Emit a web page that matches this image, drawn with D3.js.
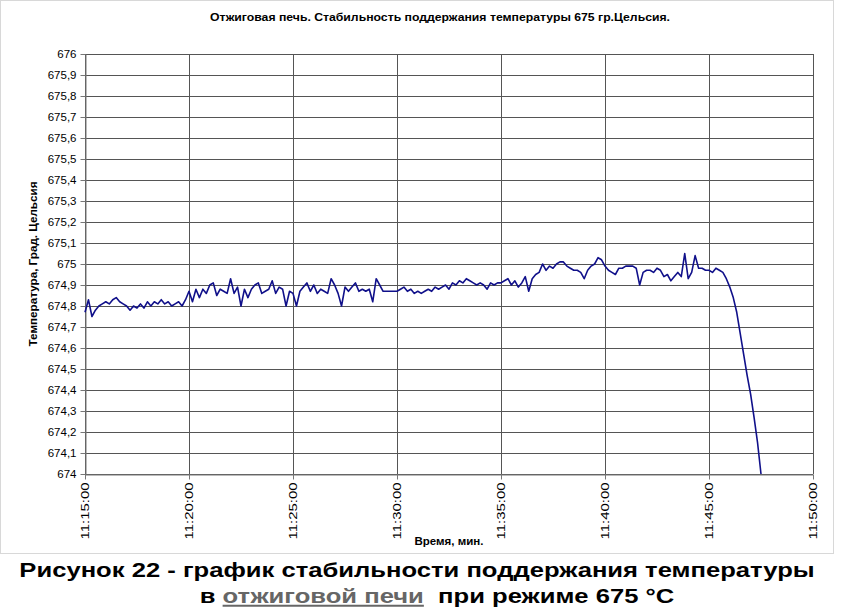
<!DOCTYPE html>
<html>
<head>
<meta charset="utf-8">
<script src="https://cdn.jsdelivr.net/npm/d3@7"></script>
<style>
  body { margin: 0; background: #fff; }
  text { font-family: "Liberation Sans", Arial, sans-serif; }
</style>
</head>
<body>
<script>
const width = 850;
const height = 614;

// readings every 10 s starting at 11:15:00
const startTime = new Date(2000, 0, 1, 11, 15, 0);
const stepSeconds = 10;

const temps1115 = [674.77, 674.83, 674.75, 674.78, 674.80, 674.81,
                   674.82, 674.81, 674.83, 674.84, 674.82, 674.81,
                   674.80, 674.78, 674.80, 674.79, 674.81, 674.79,
                   674.82, 674.80, 674.82, 674.81, 674.83, 674.81,
                   674.82, 674.80, 674.81, 674.82, 674.80, 674.83];
const temps1120 = [674.87, 674.82, 674.88, 674.84, 674.88, 674.86,
                   674.90, 674.91, 674.85, 674.88, 674.87, 674.86,
                   674.93, 674.86, 674.89, 674.80, 674.88, 674.84,
                   674.88, 674.90, 674.91, 674.86, 674.87, 674.88,
                   674.92, 674.86, 674.89, 674.88, 674.80, 674.87];
const temps1125 = [674.86, 674.80, 674.87, 674.89, 674.91, 674.87,
                   674.90, 674.86, 674.88, 674.87, 674.86, 674.93,
                   674.90, 674.86, 674.80, 674.89, 674.87, 674.89,
                   674.91, 674.87, 674.88, 674.87, 674.88, 674.82,
                   674.93, 674.90, 674.87, 674.87, 674.87, 674.87];
const temps1130 = [674.87, 674.88, 674.89, 674.87, 674.88, 674.86,
                   674.87, 674.86, 674.87, 674.88, 674.87, 674.89,
                   674.88, 674.89, 674.90, 674.88, 674.91, 674.90,
                   674.92, 674.91, 674.93, 674.92, 674.91, 674.90,
                   674.91, 674.90, 674.88, 674.91, 674.90, 674.91];
const temps1135 = [674.91, 674.92, 674.93, 674.90, 674.92, 674.89,
                   674.91, 674.94, 674.87, 674.93, 674.95, 674.96,
                   675.00, 674.97, 674.99, 674.98, 675.00, 675.01,
                   675.01, 674.99, 674.98, 674.97, 674.97, 674.96,
                   674.93, 674.97, 674.99, 675.00, 675.03, 675.02];
const temps1140 = [674.99, 674.97, 674.96, 674.95, 674.98, 674.98,
                   674.99, 674.99, 674.99, 674.98, 674.90, 674.96,
                   674.97, 674.97, 674.96, 674.98, 674.97, 674.94,
                   674.95, 674.92, 674.94, 674.96, 674.94, 675.05,
                   674.93, 674.96, 675.04, 674.98, 674.98, 674.97];
const temps1145 = [674.97, 674.96, 674.98, 674.97, 674.96, 674.93,
                   674.89, 674.84, 674.77, 674.67, 674.57, 674.47,
                   674.38, 674.27, 674.15, 674.00];

const yTicks = [674, 674.1, 674.2, 674.3, 674.4, 674.5, 674.6, 674.7, 674.8, 674.9,
                675, 675.1, 675.2, 675.3, 675.4, 675.5, 675.6, 675.7, 675.8, 675.9, 676];
const xTickMinutes = [15, 20, 25, 30, 35, 40, 45, 50];

const titleText = "Отжиговая печь. Стабильность поддержания температуры 675 гр.Цельсия.";
const yLabel = "Температура, Град. Цельсия";
const xLabel = "Время, мин.";

const temps = [].concat(temps1115, temps1120, temps1125, temps1130, temps1135, temps1140, temps1145);
const series = temps.map(function(v, i) {
  return {t: new Date(startTime.getTime() + i * stepSeconds * 1000), v: v};
});

const svg = d3.select('body').append('svg').attr('width', width).attr('height', height);

// chart frame
svg.append('rect')
  .attr('x', 0.5).attr('y', 0.5)
  .attr('width', 833).attr('height', 553)
  .style('fill', 'white')
  .style('stroke', '#d8d8d8');

const plot = {left: 85, right: 813, top: 54, bottom: 474};

const xs = d3.scaleTime()
  .domain([startTime, new Date(2000, 0, 1, 11, 50, 0)])
  .range([plot.left, plot.right]);

const ys = d3.scaleLinear()
  .domain([674, 676])
  .range([plot.bottom, plot.top]);

const xTicks = xTickMinutes.map(function(m) { return new Date(2000, 0, 1, 11, m, 0); });

// grid
svg.append('g')
  .selectAll('line')
  .data(yTicks)
  .enter()
  .append('line')
  .attr('x1', plot.left).attr('x2', plot.right)
  .attr('y1', function(d) { return Math.round(ys(d)) + 0.5; })
  .attr('y2', function(d) { return Math.round(ys(d)) + 0.5; })
  .style('stroke', '#555')
  .style('stroke-width', 1);

svg.append('g')
  .selectAll('line')
  .data(xTicks)
  .enter()
  .append('line')
  .attr('y1', plot.top).attr('y2', plot.bottom)
  .attr('x1', function(d) { return Math.round(xs(d)) + 0.5; })
  .attr('x2', function(d) { return Math.round(xs(d)) + 0.5; })
  .style('stroke', '#555')
  .style('stroke-width', 1);

// axes
const yAxis = d3.axisLeft(ys)
  .tickValues(yTicks)
  .tickSize(5)
  .tickSizeOuter(0)
  .tickFormat(function(d) { return d3.format('~f')(+d.toFixed(1)).replace('.', ','); });

const gy = svg.append('g')
  .attr('transform', 'translate(' + (plot.left + 0.5) + ',0)')
  .call(yAxis);
gy.selectAll('text')
  .style('font-size', '11.5px')
  .style('fill', '#000')
  .attr('x', -9);
gy.selectAll('line, path').style('stroke', '#777');

const xAxis = d3.axisBottom(xs)
  .tickValues(xTicks)
  .tickSize(5)
  .tickSizeOuter(0)
  .tickFormat(d3.timeFormat('%H:%M:%S'));

const gx = svg.append('g')
  .attr('transform', 'translate(0,' + (plot.bottom + 0.5) + ')')
  .call(xAxis);
gx.selectAll('text')
  .attr('y', 0)
  .attr('x', -8)
  .attr('dy', '.35em')
  .attr('transform', 'rotate(-90)')
  .attr('textLength', 57)
  .attr('lengthAdjust', 'spacingAndGlyphs')
  .style('text-anchor', 'end')
  .style('font-size', '11px')
  .style('fill', '#000');
gx.selectAll('line, path').style('stroke', '#777');

// temperature trace
const line = d3.line()
  .x(function(d) { return xs(d.t); })
  .y(function(d) { return ys(d.v); });

svg.append('path')
  .datum(series)
  .attr('d', line)
  .style('fill', 'none')
  .style('stroke', '#10108a')
  .style('stroke-width', 1.6)
  .style('stroke-linejoin', 'round');

// titles
svg.append('text')
  .attr('x', 440).attr('y', 21)
  .attr('text-anchor', 'middle')
  .attr('textLength', 460)
  .attr('lengthAdjust', 'spacingAndGlyphs')
  .style('font-size', '11.5px')
  .style('font-weight', 'bold')
  .text(titleText);

svg.append('text')
  .attr('transform', 'translate(37,' + ((plot.top + plot.bottom) / 2) + ') rotate(-90)')
  .attr('text-anchor', 'middle')
  .attr('textLength', 165)
  .attr('lengthAdjust', 'spacingAndGlyphs')
  .style('font-size', '11px')
  .style('font-weight', 'bold')
  .text(yLabel);

svg.append('text')
  .attr('x', 449).attr('y', 545)
  .attr('text-anchor', 'middle')
  .attr('textLength', 69)
  .attr('lengthAdjust', 'spacingAndGlyphs')
  .style('font-size', '11px')
  .style('font-weight', 'bold')
  .text(xLabel);

// figure caption (wide bold face, stretched horizontally)
svg.append('g')
  .attr('transform', 'translate(417,577) scale(1.28,1)')
  .append('text')
  .attr('text-anchor', 'middle')
  .style('font-size', '20px')
  .style('font-weight', 'bold')
  .text('Рисунок 22 - график стабильности поддержания температуры');

const cap2 = svg.append('g')
  .attr('transform', 'translate(437,603) scale(1.28,1)')
  .append('text')
  .attr('text-anchor', 'middle')
  .style('font-size', '20px')
  .style('font-weight', 'bold')
  .style('white-space', 'pre');
cap2.append('tspan').text('в ');
cap2.append('tspan')
  .style('fill', '#666')
  .style('text-decoration', 'underline')
  .text('отжиговой печи');
cap2.append('tspan').text('  при режиме 675 °C');
</script>
</body>
</html>
